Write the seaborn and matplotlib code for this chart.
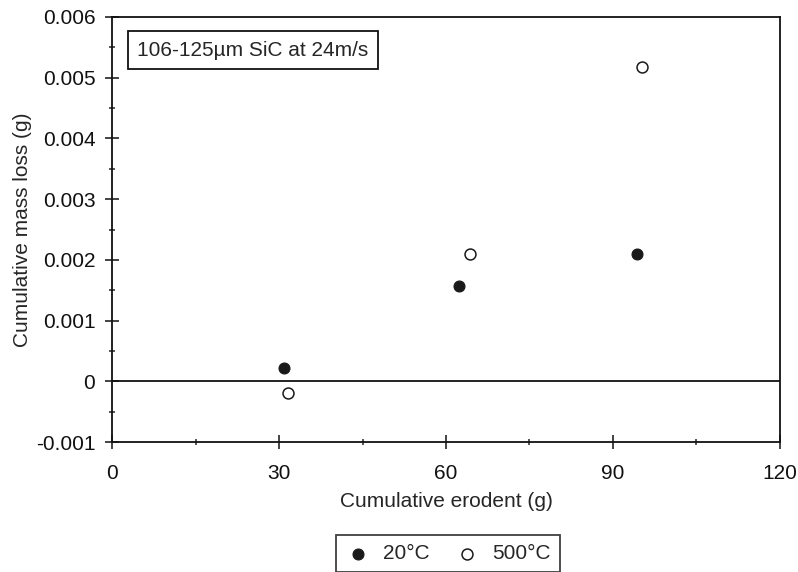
import numpy as np
import pandas as pd
import matplotlib.pyplot as plt
import seaborn as sns
from matplotlib.ticker import MultipleLocator


erodent_20 = [30.9, 62.3, 94.3]
loss_20    = [0.00022, 0.00157, 0.00210]

erodent_500 = [31.6, 64.3, 95.2]
loss_500    = [-0.00019, 0.00209, 0.00517]

temperatures = ['20°C', '500°C']


df = pd.DataFrame({
    'erodent': erodent_20 + erodent_500,
    'loss':    loss_20 + loss_500,
    'temp':    [temperatures[0]] * len(erodent_20) + [temperatures[1]] * len(erodent_500),
})

sns.set_style('ticks')
plt.rcParams['font.family'] = ['Liberation Sans', 'DejaVu Sans']

fig = plt.figure(figsize=(7.98, 5.72), dpi=100)
ax  = fig.add_axes([0.1404, 0.227, 0.837, 0.7433])

ax.axhline(0, color='#111111', linewidth=1.3, zorder=1)

sns.scatterplot(
    data=df[df['temp'] == temperatures[0]], x='erodent', y='loss',
    ax=ax, marker='o', s=62, color='#1a1a1a', edgecolor='#1a1a1a',
    linewidth=0.8, label=temperatures[0], zorder=3
)
sns.scatterplot(
    data=df[df['temp'] == temperatures[1]], x='erodent', y='loss',
    ax=ax, marker='o', s=62, facecolor='white', edgecolor='#1a1a1a',
    linewidth=1.1, label=temperatures[1], zorder=3
)

ax.set_xlim(0, 120)
ax.set_ylim(-0.001, 0.006)
ax.xaxis.set_major_locator(MultipleLocator(30))
ax.xaxis.set_minor_locator(MultipleLocator(15))
ax.yaxis.set_major_locator(MultipleLocator(0.001))
ax.yaxis.set_minor_locator(MultipleLocator(0.0005))
ax.yaxis.set_major_formatter(plt.FuncFormatter(lambda v, p: '0' if abs(v) < 1e-9 else f'{v:.3f}'))

ax.tick_params(axis='both', which='major', direction='inout', length=10, width=1.1,
               labelsize=15, colors='#111111')
ax.tick_params(axis='both', which='minor', direction='inout', length=4.5, width=1.1)
ax.tick_params(axis='x', which='major', pad=11)
ax.tick_params(axis='y', which='major', pad=7)
for side in ['top', 'right', 'left', 'bottom']:
    ax.spines[side].set_visible(True)
    ax.spines[side].set_linewidth(1.3)
    ax.spines[side].set_color('#111111')

ax.set_xlabel('Cumulative erodent (g)', fontsize=15, labelpad=6)
ax.set_ylabel('Cumulative mass loss (g)', fontsize=15, labelpad=3)

ax.text(0.0375, 0.944, '106-125µm SiC at 24m/s', transform=ax.transAxes,
        fontsize=15, va='top', ha='left',
        bbox=dict(boxstyle='square,pad=0.45', facecolor='white',
                  edgecolor='#111111', linewidth=1.3))

leg = ax.legend(loc='center', bbox_to_anchor=(0.503, -0.262), ncol=2,
                fontsize=15, frameon=True, fancybox=False,
                handletextpad=0.6, columnspacing=1.2, borderpad=0.45,
                handlelength=1.2, borderaxespad=0)
leg.get_frame().set_edgecolor('#111111')
leg.get_frame().set_linewidth(1.3)

plt.savefig('out.png', dpi=100)
